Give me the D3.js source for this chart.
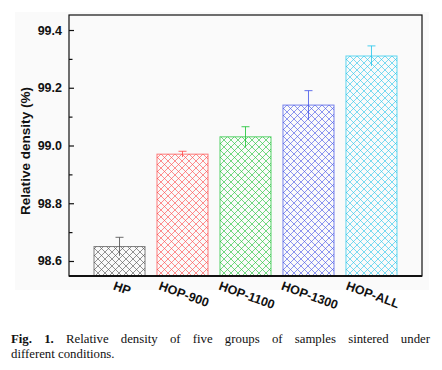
<!DOCTYPE html>
<html><head><meta charset="utf-8">
<script src="https://cdn.jsdelivr.net/npm/d3@7/dist/d3.min.js"></script>
<style>body{margin:0;background:#fff;} svg{display:block;}</style>
</head><body>
<svg id="c" width="442" height="370"></svg>
<script>
const categories = ["HP","HOP-900","HOP-1100","HOP-1300","HOP-ALL"];
const values = [98.65, 98.97, 99.03, 99.14, 99.31];
const errors = [0.032, 0.01, 0.035, 0.05, 0.035];
const colors = ["#555555","#ff4d4d","#22c43a","#4a5ae8","#2cc8ec"];
const yTicks = [98.6, 98.8, 99.0, 99.2, 99.4];
const yMinor = [98.7, 98.9, 99.1, 99.3];
const yLabel = "Relative density (%)";
const captionBold = ["Fig.", "1."];
const captionLine1 = "Relative density of five groups of samples sintered under";
const captionLine2 = "different conditions.";

const svg = d3.select("#c");
const L = 69, R = 422, T = 15, B = 276;
svg.append("rect").attr("x",15).attr("y",12).attr("width",414).attr("height",278).attr("fill","#fafafa");

const x = d3.scaleBand().domain(categories).range([L,R]).paddingInner(0.19).paddingOuter(0.397);
const y = d3.scaleLinear().domain([98.548, 99.452]).range([B,T]);

const defs = svg.append("defs");
categories.forEach((c,i)=>{
  const p = defs.append("pattern").attr("id","h"+i).attr("patternUnits","userSpaceOnUse")
    .attr("width",7).attr("height",7);
  p.append("path").attr("d","M0,0L7,7M7,0L0,7M-1,6L1,8M6,-1L8,1M-1,1L1,-1M6,8L8,6")
    .attr("stroke",colors[i]).attr("stroke-width",0.9).attr("stroke-opacity",0.7).attr("fill","none");
});

const g = svg.append("g");
g.selectAll("rect.bar").data(categories).join("rect").attr("class","bar")
  .attr("x",d=>x(d)).attr("width",x.bandwidth())
  .attr("y",(d,i)=>y(values[i])).attr("height",(d,i)=>B-y(values[i]))
  .attr("fill",(d,i)=>"url(#h"+i+")")
  .attr("stroke",(d,i)=>colors[i]).attr("stroke-opacity",0.75).attr("stroke-width",1);

// error bars
categories.forEach((c,i)=>{
  const cx = x(c)+x.bandwidth()/2;
  const e = g.append("g").attr("stroke",colors[i]).attr("stroke-width",1).attr("stroke-opacity",0.85);
  e.append("line").attr("x1",cx).attr("x2",cx).attr("y1",y(values[i]+errors[i])).attr("y2",y(values[i]-errors[i]));
  e.append("line").attr("x1",cx-4).attr("x2",cx+4).attr("y1",y(values[i]+errors[i])).attr("y2",y(values[i]+errors[i]));
});

// frame
svg.append("rect").attr("x",L).attr("y",T).attr("width",R-L).attr("height",B-T)
  .attr("fill","none").attr("stroke","#111").attr("stroke-width",1.2);
svg.append("line").attr("x1",L).attr("x2",R).attr("y1",B).attr("y2",B).attr("stroke","#111").attr("stroke-width",2.2);

// y axis
const ya = svg.append("g").attr("transform",`translate(${L},0)`)
  .call(d3.axisLeft(y).tickValues(yTicks).tickFormat(d3.format(".1f")).tickSize(-5).tickPadding(7));
ya.select(".domain").remove();
ya.selectAll("line").attr("stroke","#111").attr("stroke-width",1.2);
ya.selectAll("text").attr("font-family","Liberation Sans, Arial, sans-serif").attr("font-weight","bold")
  .attr("font-size",12.5).attr("fill","#111");
const ym = svg.append("g").attr("transform",`translate(${L},0)`)
  .call(d3.axisLeft(y).tickValues(yMinor).tickFormat("").tickSize(-3.5));
ym.select(".domain").remove();
ym.selectAll("line").attr("stroke","#111").attr("stroke-width",1.2);

svg.append("text").attr("transform",`translate(30,151) rotate(-90)`)
  .attr("text-anchor","middle").attr("font-family","Liberation Sans, Arial, sans-serif")
  .attr("font-weight","bold").attr("font-size",12.5).attr("fill","#111")
  .attr("textLength",128).attr("lengthAdjust","spacingAndGlyphs").text(yLabel);

// x labels: pivot at left end, rotated 20deg
const xa = svg.append("g").attr("transform",`translate(0,${B})`)
  .call(d3.axisBottom(x).tickSize(0).tickPadding(0));
xa.select(".domain").remove();
xa.selectAll(".tick text").attr("font-family","Liberation Sans, Arial, sans-serif").attr("font-weight","bold")
  .attr("font-size",12.5).attr("fill","#111").attr("text-anchor","start").attr("dy",0).attr("y",0)
  .attr("dominant-baseline","central")
  .each(function(){
    const w = this.getComputedTextLength();
    const sx = -w/2 + 3, sy = 9.5;
    d3.select(this).attr("x",0).attr("transform",`translate(${sx},${sy}) rotate(20)`);
  });

// caption, justified line 1
const cap = svg.append("g").attr("font-family","Liberation Serif, Times New Roman, serif").attr("font-size",12.8).attr("fill","#111");
const words = captionBold.concat(captionLine1.split(" "));
const tmp = words.map((w,i)=>cap.append("text").attr("y",343).attr("font-weight",i<captionBold.length?"bold":"normal").text(w));
const widths = tmp.map(t=>t.node().getComputedTextLength());
const x0 = 11, x1 = 430;
const gap = (x1-x0-d3.sum(widths))/(words.length-1);
let cx = x0;
tmp.forEach((t,i)=>{ t.attr("x",cx); cx += widths[i]+gap; });
cap.append("text").attr("x",11).attr("y",358).text(captionLine2);
</script>
</body></html>
